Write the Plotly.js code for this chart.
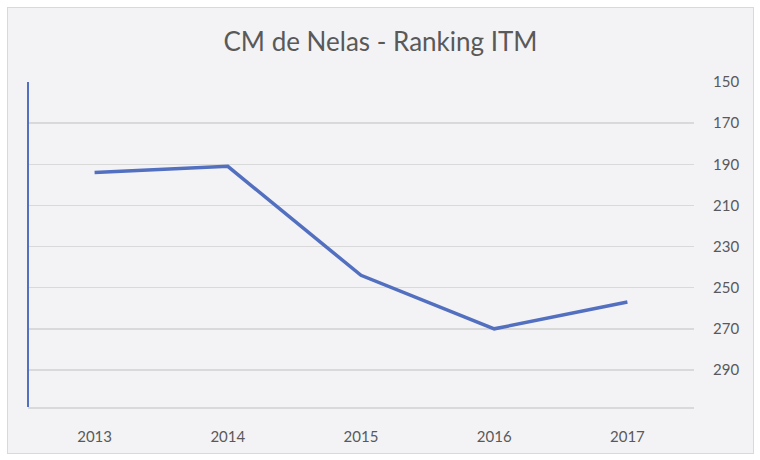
<!DOCTYPE html>
<html>
<head>
<meta charset="utf-8">
<script src="https://cdn.plot.ly/plotly-3.0.1.min.js"></script>
<style>
html,body{margin:0;padding:0;background:#ffffff;}
#wrap{position:absolute;left:7px;top:7px;width:745px;height:445px;border:1px solid #d9d9d9;background:#f3f3f6;}
#chart{width:745px;height:445px;}
</style>
</head>
<body>
<div id="wrap"><div id="chart"></div></div>
<script>
const years = ['2013', '2014', '2015', '2016', '2017'];
const ranking = [194, 191, 244, 270, 257];
const yTicks = [150, 170, 190, 210, 230, 250, 270, 290];

const trace = {
  x: years,
  y: ranking,
  type: 'scatter',
  mode: 'lines',
  line: {color: '#5270bf', width: 3.5},
  hoverinfo: 'skip'
};

const tickFont = {family: 'Lato, "Open Sans", sans-serif', size: 15, color: '#595959'};

const layout = {
  width: 745,
  height: 445,
  margin: {l: 20, r: 59, t: 74, b: 46},
  paper_bgcolor: 'rgba(0,0,0,0)',
  plot_bgcolor: 'rgba(0,0,0,0)',
  showlegend: false,
  title: {
    text: 'CM de Nelas - Ranking ITM',
    font: {family: 'Lato, "Open Sans", sans-serif', size: 26, color: '#595959'},
    x: 0.5, xanchor: 'center',
    y: 1 - 34/445, yanchor: 'middle'
  },
  xaxis: {
    type: 'category',
    range: [-0.5, 4.5],
    showgrid: false,
    zeroline: false,
    showline: true,
    linecolor: '#d9d9d9',
    linewidth: 1.5,
    ticks: '',
    ticklabelstandoff: 15,
    tickfont: tickFont
  },
  yaxis: {
    side: 'right',
    range: [308, 150],
    tickvals: yTicks,
    ticktext: yTicks.map(String),
    showgrid: true,
    gridcolor: '#d9d9d9',
    gridwidth: 1.5,
    zeroline: false,
    showline: false,
    ticks: '',
    ticklabelstandoff: 18,
    tickfont: tickFont
  },
  shapes: [{
    type: 'line', xref: 'paper', yref: 'paper',
    x0: 0, x1: 0, y0: 0, y1: 1,
    line: {color: '#5270bf', width: 2}
  }]
};

Plotly.newPlot('chart', [trace], layout, {displayModeBar: false, staticPlot: true});
</script>
</body>
</html>
